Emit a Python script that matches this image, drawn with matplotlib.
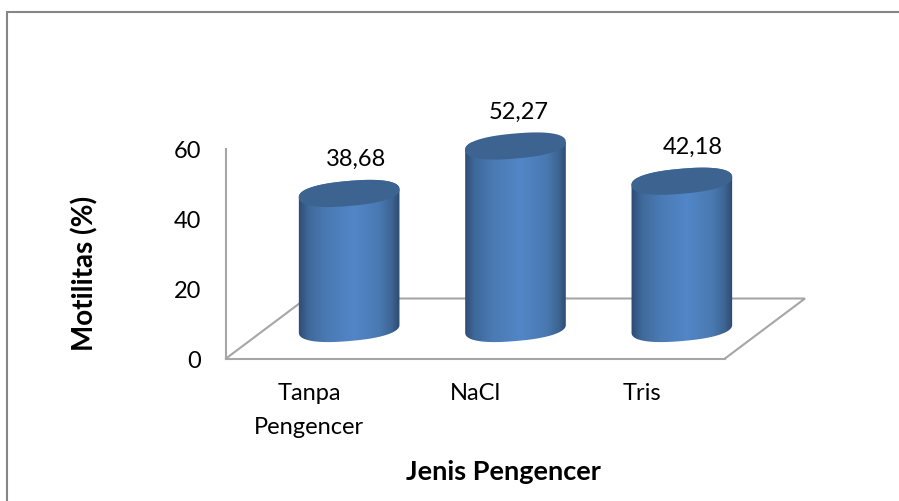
import numpy as np
import matplotlib
matplotlib.use("Agg")
import matplotlib.pyplot as plt
from matplotlib.colors import LinearSegmentedColormap
from matplotlib.path import Path
from matplotlib.patches import PathPatch, Rectangle

kategori = ["Tanpa\nPengencer", "NaCl", "Tris"]
motilitas = [38.68, 52.27, 42.18]
label_nilai = ["38,68", "52,27", "42,18"]
yticks = [0, 20, 40, 60]

W, H = 899, 502
plt.rcParams["font.family"] = ["Lato", "DejaVu Sans"]

fig = plt.figure(figsize=(W / 100, H / 100), dpi=100, facecolor="white")

# bingkai luar (frame chart, kanan dan bawah terpotong)
fig.add_artist(Rectangle((6.5 / W, -0.1), 1.2, 1.1 - 13 / H, transform=fig.transFigure,
                         fill=False, edgecolor="#868686", linewidth=1.5))

# dinding depan: x 226-725, y 359-150 piksel
ax = fig.add_axes([226 / W, 1 - 359.5 / H, 499 / W, 209.5 / H])
ax.set_facecolor("none")
ax.set_xlim(0, 3)
ax.set_ylim(0, 60)

px_x = 3 / 499      # satu piksel dalam satuan x
px_y = 60 / 209.5   # satu piksel dalam satuan y

warna_garis = "#a6a6a6"
for s in ["top", "right"]:
    ax.spines[s].set_visible(False)
for s in ["left", "bottom"]:
    ax.spines[s].set_color(warna_garis)
    ax.spines[s].set_linewidth(1.5)

posisi = np.arange(len(kategori)) + 0.5
ax.set_xticks(posisi)
ax.set_xticklabels(kategori, fontsize=17, color="black", linespacing=1.76)
ax.set_yticks(yticks)
ax.set_yticklabels([str(v) for v in yticks], fontsize=17, color="black")
ax.tick_params(axis="both", length=0)
ax.tick_params(axis="x", pad=17)
ax.tick_params(axis="y", pad=18)

# lantai 3D
dx, dy = 80 * px_x, 60 * px_y
ax.plot([0, dx, 3 + dx, 3], [0, dy, dy, 0], color=warna_garis, lw=1.5,
        clip_on=False, zorder=1, solid_joinstyle="miter")

# gradien silinder
cmap = LinearSegmentedColormap.from_list("silinder", [
    (0.0, "#2c4a72"), (0.1, "#3f689a"), (0.28, "#4a7ab3"),
    (0.55, "#5286c8"), (0.8, "#4a79b1"), (0.92, "#3d6594"), (1.0, "#2d4a70"),
])
gradien = np.linspace(0, 1, 256).reshape(1, -1)

a, b, miring = 50.5, 12.5, np.radians(5)
geser_label = [7, 3, 11]  # geser label nilai, piksel


def elips(cx, cy, t):
    # superelips miring supaya ujungnya agak tumpul, piksel lalu ke satuan data
    ux = a * np.sign(np.cos(t)) * np.abs(np.cos(t)) ** 0.85
    uy = b * np.sign(np.sin(t)) * np.abs(np.sin(t)) ** 0.85
    ex = ux * np.cos(miring) - uy * np.sin(miring)
    ey = ux * np.sin(miring) + uy * np.cos(miring)
    return cx + ex * px_x, cy + ey * px_y


for x0, nilai, teks, geser in zip(posisi, motilitas, label_nilai, geser_label):
    cx = x0 + dx / 2
    y_dasar = dy / 2

    # badan silinder: busur bawah kiri ke kanan, lalu busur atas kanan ke kiri
    bx, by = elips(cx, y_dasar, np.linspace(np.pi, 2 * np.pi, 60))
    kx, ky = elips(cx, y_dasar + nilai, np.linspace(0, np.pi, 60))
    badan = PathPatch(Path(np.column_stack([np.r_[bx, kx], np.r_[by, ky]])),
                      facecolor="none", edgecolor="none", zorder=2)
    ax.add_patch(badan)
    gambar = ax.imshow(gradien, cmap=cmap, aspect="auto", zorder=2,
                       extent=[cx - 51 * px_x, cx + 51 * px_x, 0, 62])
    gambar.set_clip_box(fig.bbox)
    gambar.set_clip_path(badan)

    # tutup atas
    tx, ty = elips(cx, y_dasar + nilai, np.linspace(0, 2 * np.pi, 120))
    ax.fill(tx, ty, color="#3d6491", lw=0, zorder=3, clip_on=False)

    ax.text(cx + geser * px_x, y_dasar + nilai + 35 * px_y, teks, ha="center", va="center",
            fontsize=17, color="black", clip_on=False)

ax.set_xlim(0, 3)
ax.set_ylim(0, 60)

ax.set_xlabel("Jenis Pengencer", fontsize=19.5, fontweight="bold", va="center")
ax.xaxis.set_label_coords((503.5 - 226) / 499, -(472 - 359.5) / 209.5)
ax.set_ylabel("Motilitas (%)", fontsize=20, fontweight="bold", va="center")
ax.yaxis.set_label_coords((85 - 226) / 499, (359.5 - 273) / 209.5)

fig.savefig("out.png", dpi=100)
